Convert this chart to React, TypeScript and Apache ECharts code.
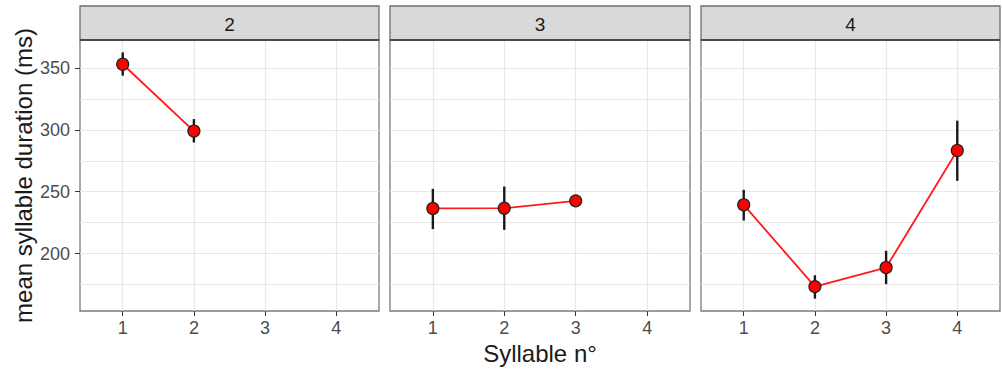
import React, { useEffect, useRef } from "react";
import * as echarts from "echarts";

const facets = ["2", "3", "4"];
const syllables = [
  [1, 2],
  [1, 2, 3],
  [1, 2, 3, 4],
];
const means = [
  [353, 299],
  [236.5, 236.7, 242.6],
  [239.4, 173.3, 188.7, 283.3],
];
const lows = [
  [343.8, 289.8],
  [219.8, 219.2, 238.6],
  [226.7, 163.6, 175.3, 258.8],
];
const highs = [
  [362.6, 308.7],
  [252.3, 254.2, 246.7],
  [251.5, 182.5, 202.3, 307.4],
];
const xTicks = [1, 2, 3, 4];
const yTicks = [200, 250, 300, 350];
const yMinor = [175, 225, 275, 325];
const yRange = [153.6, 372.6];
const xRange = [0.4, 4.6];

const FONT = "'Liberation Sans', Arial, sans-serif";
const gridLefts = [80, 390, 701];
const gridWidths = [299, 300, 299];
const gridTop = 40;
const gridHeight = 271;

export default function App() {
  const ref = useRef<HTMLDivElement>(null);
  useEffect(() => {
    if (!ref.current) return;
    const chart = echarts.init(ref.current, undefined, { renderer: "svg" });
    const grids = facets.map((_, i) => ({
      left: gridLefts[i],
      top: gridTop,
      width: gridWidths[i],
      height: gridHeight,
      show: true,
      backgroundColor: "#ffffff",
      borderColor: "#7a7a7a",
      borderWidth: 1.3,
    }));
    const xAxes = facets.map((_, i) => ({
      type: "value",
      gridIndex: i,
      min: xRange[0],
      max: xRange[1],
      axisLine: { show: false },
      splitLine: { show: false },
      axisTick: {
        show: true,
        customValues: xTicks,
        length: 5,
        lineStyle: { color: "#333", width: 1 },
      },
      axisLabel: {
        customValues: xTicks,
        color: "#4d4d4d",
        fontSize: 18,
        fontFamily: FONT,
        margin: 8,
      },
      name: i === 1 ? "Syllable n°" : "",
      nameLocation: "middle",
      nameGap: 29,
      nameTextStyle: { color: "#1a1a1a", fontSize: 24, fontFamily: FONT },
    }));
    const yAxes = facets.map((_, i) => ({
      type: "value",
      gridIndex: i,
      min: yRange[0],
      max: yRange[1],
      axisLine: { show: false },
      splitLine: { show: false },
      axisTick: {
        show: i === 0,
        customValues: yTicks,
        length: 5,
        lineStyle: { color: "#333", width: 1 },
      },
      axisLabel: {
        show: i === 0,
        customValues: yTicks,
        color: "#4d4d4d",
        fontSize: 18,
        fontFamily: FONT,
        margin: 10,
      },
      name: i === 0 ? "mean syllable duration (ms)" : "",
      nameLocation: "middle",
      nameGap: 45,
      nameTextStyle: { color: "#1a1a1a", fontSize: 24, fontFamily: FONT },
    }));

    const series: any[] = [];
    facets.forEach((_, i) => {
      const gridLineData = [
        ...yMinor.map((v) => ({ yAxis: v })),
        ...yTicks.map((v) => ({ yAxis: v })),
        ...xTicks.map((v) => ({ xAxis: v })),
      ];
      series.push({
        type: "line",
        xAxisIndex: i,
        yAxisIndex: i,
        data: syllables[i].map((x, j) => [x, means[i][j]]),
        showSymbol: false,
        symbol: "none",
        lineStyle: { color: "#ff1a1a", width: 1.8 },
        z: 2,
        silent: true,
        markLine: {
          silent: true,
          symbol: "none",
          label: { show: false },
          lineStyle: { color: "#e8e8e8", width: 1.2, type: "solid" },
          data: gridLineData,
          z: 1,
        },
      });
      series.push({
        type: "custom",
        xAxisIndex: i,
        yAxisIndex: i,
        z: 3,
        silent: true,
        data: syllables[i].map((x, j) => [x, lows[i][j], highs[i][j]]),
        renderItem: (params: any, api: any) => {
          const p1 = api.coord([api.value(0), api.value(1)]);
          const p2 = api.coord([api.value(0), api.value(2)]);
          return {
            type: "line",
            shape: { x1: p1[0], y1: p1[1], x2: p2[0], y2: p2[1] },
            style: { stroke: "#1a1a1a", lineWidth: 2.4 },
          };
        },
      });
      series.push({
        type: "scatter",
        xAxisIndex: i,
        yAxisIndex: i,
        z: 4,
        silent: true,
        symbol: "circle",
        symbolSize: 12,
        data: syllables[i].map((x, j) => [x, means[i][j]]),
        itemStyle: { color: "#ff0000", borderColor: "#222", borderWidth: 1.2, opacity: 1 },
      });
    });

    const graphics: any[] = [];
    facets.forEach((f, i) => {
      graphics.push({
        type: "rect",
        shape: { x: gridLefts[i], y: 6, width: gridWidths[i], height: gridTop - 6 },
        style: { fill: "#d9d9d9", stroke: "#6e6e6e", lineWidth: 1.3 },
        z: 10,
      });
      graphics.push({
        type: "line",
        shape: { x1: gridLefts[i], y1: gridTop, x2: gridLefts[i] + gridWidths[i], y2: gridTop },
        style: { stroke: "#4a4a4a", lineWidth: 2 },
        z: 11,
      });
      graphics.push({
        type: "text",
        x: gridLefts[i] + gridWidths[i] / 2,
        y: 24,
        style: {
          text: f,
          fill: "#1a1a1a",
          fontSize: 19,
          fontFamily: FONT,
          align: "center",
          verticalAlign: "middle",
        },
        z: 12,
      });
    });

    chart.setOption({
      animation: false,
      backgroundColor: "#ffffff",
      grid: grids,
      xAxis: xAxes,
      yAxis: yAxes,
      series,
      graphic: graphics,
    });
    return () => chart.dispose();
  }, []);
  return (
    <div
      ref={ref}
      style={{ position: "fixed", left: 0, top: 0, width: 1002, height: 372 }}
    />
  );
}
